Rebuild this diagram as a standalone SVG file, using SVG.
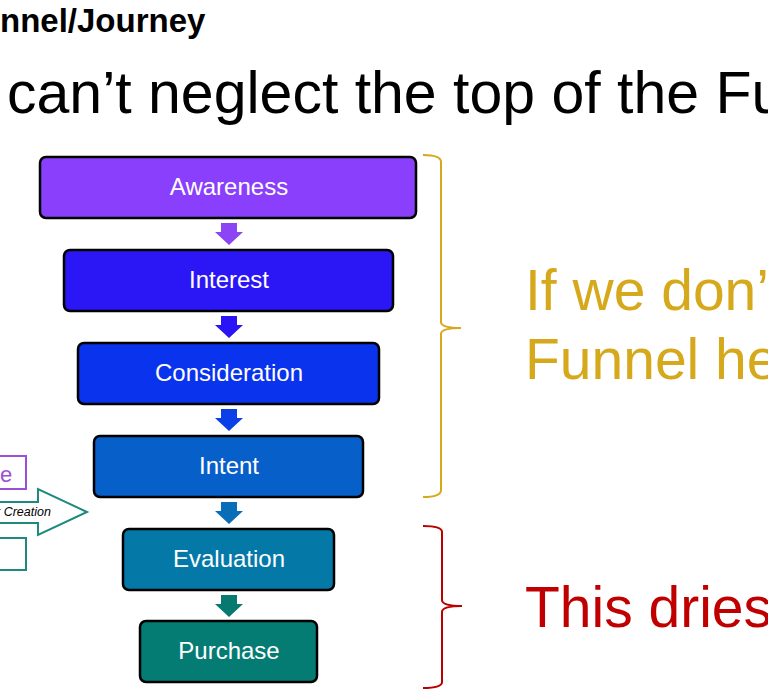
<svg xmlns="http://www.w3.org/2000/svg" width="768" height="694" viewBox="0 0 768 694">
<defs>
<style>
.box{stroke:#000;stroke-width:2.5}
.lbl{font-family:"Liberation Sans",Arial,sans-serif;font-size:24px;fill:#fff;text-anchor:middle}
.big{font-family:"Liberation Sans",Arial,sans-serif;font-size:57px}
.brace{fill:none;stroke-width:2}
</style>
<path id="dn" d="M-8,0 H8 V9 H14 L0,22 L-14,9 H-8 Z"/>
</defs>
<rect width="768" height="694" fill="#fff"/>
<text x="0" y="32" font-family="Liberation Sans,Arial,sans-serif" font-weight="bold" font-size="33" fill="#000">nnel/Journey</text>
<text x="7" y="113" font-family="Liberation Sans,Arial,sans-serif" font-size="59" fill="#000">can’t neglect the top of the Fu</text>
<g id="connectors">
<use href="#dn" x="229" y="223" fill="#8B45F5"/>
<use href="#dn" x="229" y="316" fill="#2A14F5"/>
<use href="#dn" x="229" y="409" fill="#0B3FE8"/>
<use href="#dn" x="229" y="502" fill="#0A6DB8"/>
<use href="#dn" x="229" y="595" fill="#07796F"/>
</g>
<g id="awareness"><rect class="box" x="40" y="157" width="376" height="61" rx="6" fill="#8A3FFC"/><text class="lbl" x="229" y="195">Awareness</text></g>
<g id="interest"><rect class="box" x="64" y="250" width="329" height="61" rx="6" fill="#2B17F5"/><text class="lbl" x="229" y="288">Interest</text></g>
<g id="consideration"><rect class="box" x="78" y="343" width="301" height="61" rx="6" fill="#0A33EE"/><text class="lbl" x="229" y="381">Consideration</text></g>
<g id="intent"><rect class="box" x="94" y="436" width="269" height="61" rx="6" fill="#075FCA"/><text class="lbl" x="229" y="474">Intent</text></g>
<g id="evaluation"><rect class="box" x="123" y="529" width="211" height="61" rx="6" fill="#0479A8"/><text class="lbl" x="229" y="567">Evaluation</text></g>
<g id="purchase"><rect class="box" x="140" y="621" width="177" height="61" rx="6" fill="#057C73"/><text class="lbl" x="229" y="659">Purchase</text></g>
<g id="left-partial">
<rect x="-10" y="456" width="36" height="33" fill="none" stroke="#9B4FD8" stroke-width="2"/>
<text x="0" y="482" font-family="Liberation Sans,Arial,sans-serif" font-size="22" fill="#9B4FD8">e</text>
<path d="M-5,502 H38 V489 L87,512 L38,535 V523 H-5" fill="none" stroke="#1E8A7E" stroke-width="2"/>
<text x="-4" y="516" font-family="Liberation Sans,Arial,sans-serif" font-size="12.5" font-style="italic" fill="#000">r Creation</text>
<rect x="-10" y="538" width="36" height="32" fill="none" stroke="#1E8A7E" stroke-width="2"/>
</g>
<g id="brace-top"><path class="brace" stroke="#D6A91C" d="M423,155 Q441,155 441,162 V322 Q441,328 461,328 Q441,328 441,334 V490 Q441,497 423,497"/></g>
<g id="brace-bottom"><path class="brace" stroke="#B80000" d="M423,526 Q442,526 442,532 V600 Q442,606 462,606 Q442,606 442,612 V682 Q442,688 423,688"/></g>
<text class="big" x="525" y="310" fill="#D6A91C">If we don’t</text>
<text class="big" x="525" y="379" fill="#D6A91C">Funnel help</text>
<text class="big" x="525" y="627" fill="#C00000">This dries</text>
</svg>
